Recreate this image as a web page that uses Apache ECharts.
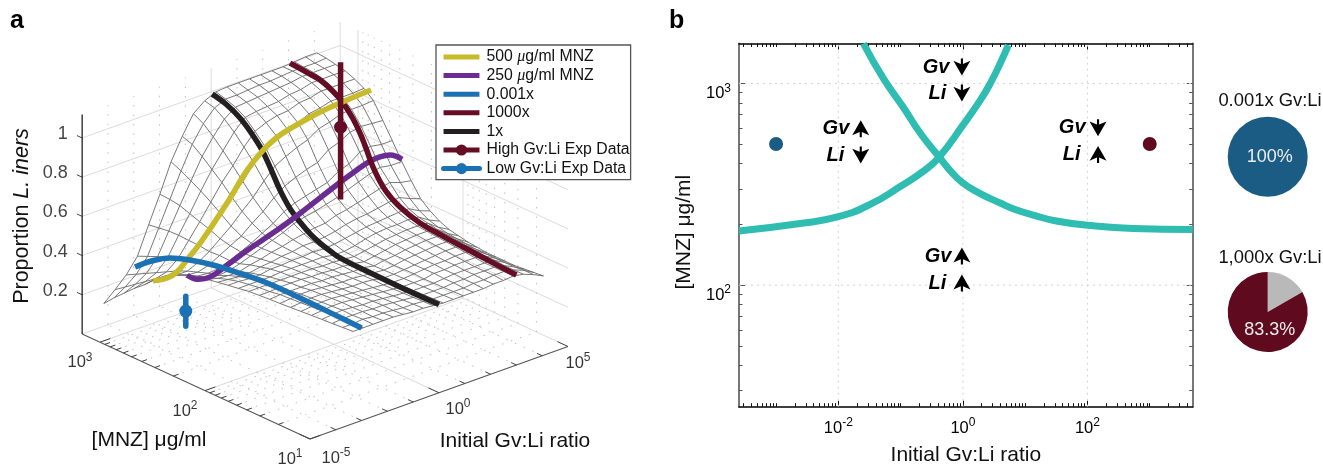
<!DOCTYPE html>
<html><head><meta charset="utf-8">
<style>html,body{margin:0;padding:0;background:#fff}#c{width:1323px;height:466px}</style>
<script src="https://cdn.jsdelivr.net/npm/echarts@6/dist/echarts.min.js"></script>
</head><body><div id="c"></div>
<script>
// ---------- panel a data: log10(ratio) = r, log10(MNZ) = m, proportion = z ----------
const meshRows = [1.00,1.09,1.18,1.27,1.36,1.45,1.54,1.63,1.72,1.81,1.90,1.99,2.08,2.17,2.26,2.35,2.44,2.53,2.62,2.71,2.80,2.89,2.98,3.07,3.16];
const meshRowStart = [-3.33,-3.37,-3.41,-3.44,-3.48,-3.52,-3.56,-3.60,-3.63,-3.67,-3.71,-3.75,-3.78,-3.82,-3.86,-3.90,-3.93,-3.97,-4.01,-4.05,-4.09,-4.12,-4.14,-4.17,-4.20];
const meshRowEnd = 4.05;
// one list per mesh column, left to right, each read from m = 1.00 to m = 3.16
const meshColumns = [
[.47,.47,.47,.47,.47,.47,.47,.47,.47,.47,.47,.465,.46,.455,.45,.44,.43,.41,.38,.345,.30,.26,.215,.17,.12],
[.47,.47,.475,.475,.475,.475,.475,.475,.475,.47,.47,.465,.46,.45,.435,.42,.405,.39,.37,.345,.31,.275,.24,.205,.17],
[.47,.475,.475,.48,.48,.48,.48,.48,.475,.475,.47,.465,.455,.445,.43,.41,.40,.385,.37,.35,.325,.30,.275,.25,.225],
[.47,.47,.475,.475,.48,.48,.48,.48,.475,.475,.47,.465,.455,.445,.43,.415,.405,.40,.395,.385,.37,.355,.34,.32,.30],
[.47,.47,.47,.47,.475,.475,.475,.475,.475,.475,.47,.47,.465,.455,.445,.43,.425,.43,.43,.44,.445,.45,.45,.445,.44],
[.465,.465,.47,.47,.47,.47,.47,.47,.47,.47,.47,.47,.465,.46,.455,.45,.45,.46,.475,.50,.52,.54,.56,.57,.575],
[.46,.46,.465,.465,.465,.465,.465,.465,.47,.47,.47,.47,.47,.47,.47,.47,.475,.49,.52,.56,.60,.635,.665,.695,.72],
[.46,.46,.46,.46,.46,.46,.465,.465,.465,.465,.465,.47,.47,.475,.48,.49,.505,.535,.575,.625,.68,.725,.77,.81,.83],
[.455,.455,.455,.455,.455,.455,.46,.46,.46,.465,.465,.47,.475,.485,.495,.51,.535,.575,.625,.685,.745,.80,.85,.895,.925],
[.45,.45,.45,.45,.45,.45,.45,.455,.46,.46,.46,.46,.47,.485,.505,.535,.575,.625,.69,.76,.82,.875,.92,.955,.97],
[.45,.45,.45,.45,.45,.45,.45,.45,.45,.45,.455,.46,.475,.49,.515,.55,.60,.665,.745,.825,.88,.93,.96,.98,.995],
[.45,.45,.45,.45,.45,.455,.455,.455,.46,.46,.465,.47,.485,.50,.52,.56,.615,.69,.775,.86,.905,.94,.965,.98,1.0],
[.45,.45,.455,.455,.46,.46,.46,.465,.465,.47,.475,.485,.495,.515,.54,.575,.63,.71,.80,.875,.92,.945,.97,.985,1.0],
[.45,.455,.455,.46,.46,.465,.465,.47,.475,.48,.485,.495,.505,.525,.55,.59,.645,.725,.82,.885,.925,.95,.975,.99,1.0],
[.455,.455,.46,.46,.465,.465,.47,.475,.48,.485,.49,.50,.51,.53,.565,.61,.68,.77,.855,.91,.945,.965,.98,.99,1.0],
[.455,.46,.46,.46,.465,.47,.475,.48,.485,.49,.495,.50,.515,.54,.58,.63,.70,.79,.87,.92,.95,.97,.985,.995,1.0],
[.46,.46,.46,.46,.465,.47,.475,.48,.485,.49,.495,.505,.52,.55,.595,.65,.74,.82,.89,.935,.965,.985,.995,1.0,1.0],
[.45,.45,.45,.455,.455,.46,.465,.47,.475,.48,.49,.50,.52,.555,.61,.665,.75,.83,.895,.935,.965,.985,.995,1.0,1.005],
[.43,.43,.425,.425,.425,.425,.425,.43,.435,.44,.45,.465,.49,.53,.59,.655,.74,.825,.895,.935,.965,.985,.995,1.0,1.01],
[.405,.40,.395,.39,.39,.39,.39,.395,.40,.41,.42,.44,.47,.51,.58,.655,.74,.82,.90,.94,.965,.985,.995,1.005,1.01]
];
const yellowM = 2.699;
const yellowR = [-4.17,-3.62,-3.24,-2.85,-2.345,-1.3,-0.52,0.1,0.64,1.26,2.31,3.35,4.28];
const yellowZ = [.348,.337,.35,.394,.454,.61,.741,.814,.854,.877,.904,.916,.923];
const purpleM = 2.398;
const purpleR = [-4.07,-3.68,-3.18,-2.52,-1.74,-0.58,0.31,1.86,2.44,3.02,3.4,3.8,4.26];
const purpleZ = [.447,.407,.396,.425,.464,.512,.556,.641,.67,.694,.698,.688,.645];
const blueR = -3;
const blueM = [3.158,3.0,2.825,2.6,2.415,2.15,1.9,1.587,1.25,1.0];
const blueZ = [.25,.32,.379,.42,.444,.465,.479,.48,.476,.472];
const redR = 3;
const redM = [3.156,3.0,2.87,2.75,2.652,2.56,2.49,2.43,2.366,2.25,2.109,1.918,1.7,1.49,1.25,1.0];
const redZ = [1.008,1.0,.992,.965,.929,.875,.816,.75,.673,.584,.532,.498,.485,.476,.467,.459];
const blackR = 0;
const blackM = [3.16,3.03,2.895,2.79,2.686,2.6,2.514,2.42,2.324,2.22,2.133,2.03,1.943,1.686,1.371,1.0];
const blackZ = [.99,.972,.934,.885,.822,.745,.66,.59,.544,.505,.484,.466,.455,.45,.448,.45];
const expM = 2.699;
const highR = 3.1, highZ = [.42,.789,1.12];
const lowR = -2.9, lowZ = [.057,.134,.21];
const zTicks = [0.2,0.4,0.6,0.8,1];
const mMajor = [1,2,3];
const rMajor = [-5,0,5];
const rDecades = [-4,-3,-2,-1,1,2,3,4];
const seriesNames = ['500 μg/ml MNZ','250 μg/ml MNZ','0.001x','1000x','1x','High Gv:Li Exp Data','Low Gv:Li Exp Data'];

// ---------- panel b data: log10 coordinates ----------
const upR = [-3.595,-2.614,-2.0,-1.49,-1.0,-0.61,-0.38,0,0.28,0.44,0.6,0.73];
const upM = [2.268,2.305,2.339,2.40,2.49,2.57,2.635,2.793,2.917,3.0,3.10,3.19];
const downR = [-1.597,-1.28,-0.96,-0.686,-0.38,-0.204,0,0.278,0.6,0.84,1.13,1.5,2.0,2.735,3.69];
const downM = [3.198,3.026,2.883,2.754,2.635,2.568,2.506,2.454,2.407,2.375,2.347,2.318,2.297,2.281,2.276];
const expPoints = [[-3,2.70],[3,2.70]];
const notes = [
 [-0.016,3.081,'Gv','down',4],[-0.016,2.952,'Li','down',7],
 [-1.64,2.775,'Gv','up',3],[-1.64,2.645,'Li','down',8],
 [2.17,2.78,'Gv','down',4],[2.17,2.648,'Li','up',9],
 [-0.016,2.144,'Gv','up',2],[-0.016,2.01,'Li','up',7]];
const bXMajor = [-2,0,2], bYMajor = [2,3];
const xDecadeStarts = [-4,-3,-2,-1,0,1,2,3], yDecadeStarts = [1,2,3];
const pieHigh = [16.7,83.3], pieLow = [100];

// ---------- projection of panel a ----------
const px=(r,m)=>310+(r+5)*25.8-(m-1)*105;
const py=(r,m,z)=>439-(r+5)*9.25-(m-1)*48.4-z*196;
const P=(r,m,z)=>[px(r,m),py(r,m,z)];
const BR=['-','-'];
const mMax=3.17, zMax=1.12;
const FONT='"Liberation Sans",Arial,sans-serif';
const minorLogs=[2,3,4,5,6,7,8,9];
const mMinor=[];[1,2,3].forEach(d=>minorLogs.forEach(k=>{const v=d+Math.log10(k);if(v<mMax)mMinor.push(v);}));

const solid=[],dots=[],ticks=[],edges=[];
const seg=(arr,a,b)=>{arr.push(a,b,BR);};
zTicks.forEach(z=>{ solid.push(P(-5,mMax,z),P(5,mMax,z),P(5,1,z),BR); });
solid.push(P(-5,mMax,0),P(5,mMax,0),P(5,1,0),BR);
seg(solid,P(0,mMax,0),P(0,mMax,zMax));
seg(solid,P(5,mMax,0),P(5,mMax,zMax));
seg(solid,P(5,3,0),P(5,3,zMax));
seg(solid,P(5,2,0),P(5,2,zMax));
seg(solid,P(0,1,0),P(0,mMax,0));
seg(solid,P(-5,2,0),P(5,2,0));
seg(solid,P(-5,3,0),P(5,3,0));
rDecades.forEach(r=>{seg(dots,P(r,mMax,0),P(r,mMax,zMax));seg(dots,P(r,1,0),P(r,mMax,0));});
mMinor.forEach(m=>{seg(dots,P(5,m,0),P(5,m,zMax));seg(dots,P(-5,m,0),P(5,m,0));});
seg(edges,P(-5,mMax,0),P(-5,1,0));
seg(edges,P(-5,1,0),P(5,1,0));
mMajor.forEach(m=>seg(ticks,P(-5,m,0),P(-4.6,m,0)));
mMinor.forEach(m=>seg(ticks,P(-5,m,0),P(-4.8,m,0)));
rMajor.forEach(r=>seg(ticks,P(r,1,0),P(r,1.1,0)));
rDecades.forEach(r=>seg(ticks,P(r,1,0),P(r,1.05,0)));
zTicks.forEach(z=>seg(ticks,P(-5,mMax,z),P(-5,mMax+0.05,z)));

const mesh=[];
const nodeR=(i,j)=>meshRowStart[i]+(meshRowEnd-meshRowStart[i])*j/(meshColumns.length-1);
meshRows.forEach((m,i)=>{meshColumns.forEach((col,j)=>mesh.push(P(nodeR(i,j),m,col[i])));mesh.push(BR);});
meshColumns.forEach((col,j)=>{meshRows.forEach((m,i)=>mesh.push(P(nodeR(i,j),m,col[i])));mesh.push(BR);});

const sup=(p)=>`{a|10}{b|${p}}`;
const supRich={a:{fontFamily:FONT,fontSize:16.5,color:'#000',lineHeight:20,verticalAlign:'bottom'},
               b:{fontFamily:FONT,fontSize:12,color:'#000',lineHeight:12,verticalAlign:'top'}};
const gridA={xAxisIndex:0,yAxisIndex:0};
const lineS=(name,data,color,width,z,extra)=>Object.assign({type:'line',name,data,...gridA,symbol:'none',silent:true,z,
   lineStyle:{color,width},itemStyle:{color}},extra||{});

const mLabelPts=mMajor.map(m=>({value:P(-5,m,0),label:{formatter:sup(m),offset:[-20,19]}}));
const rOffsets=[[26,18],[19,15],[10,15]];
const rLabelPts=rMajor.map((r,i)=>({value:P(r,1,0),label:{formatter:sup(r),offset:rOffsets[i]}}));
const CLEAR='rgba(0,0,0,0)';
const labelS=(data)=>({type:'scatter',...gridA,data,symbolSize:1,itemStyle:{color:CLEAR},silent:true,z:20,
   label:{show:true,position:'inside',rich:supRich}});
const CW=5.5;
const series=[
 lineS('solidGrid',solid,'#dcdcdc',1,1),
 lineS('dotGrid',dots,'#c0c0c0',1,1,{lineStyle:{color:'#c0c0c0',width:1,type:[1.5,8]}}),
 lineS('boxEdges',edges,'#555',1.1,2),
 lineS('tickMarks',ticks,'#444',1,2),
 lineS('zAxis',[P(-5,mMax,0),P(-5,mMax,zMax)],'#111',1.2,2),
 lineS('mesh',mesh,'rgba(105,105,105,0.9)',1,3),
 lineS(seriesNames[4],blackM.map((m,i)=>P(blackR,m,blackZ[i])),'#231f20',CW,10,{smooth:0.4}),
 lineS(seriesNames[1],purpleR.map((r,i)=>P(r,purpleM,purpleZ[i])),'#6b2c91',CW,11,{smooth:0.4}),
 lineS(seriesNames[3],redM.map((m,i)=>P(redR,m,redZ[i])),'#640d24',CW,12,{smooth:0.4}),
 lineS(seriesNames[0],yellowR.map((r,i)=>P(r,yellowM,yellowZ[i])),'#c8bb2a',CW,13,{smooth:0.4}),
 lineS(seriesNames[2],blueM.map((m,i)=>P(blueR,m,blueZ[i])),'#1a71b3',CW,14,{smooth:0.4}),
 lineS(seriesNames[5],highZ.map((z,i)=>({value:P(highR,expM,z),symbol:i===1?'circle':'none'})),'#640d24',CW,15,{symbol:'circle',symbolSize:13,showSymbol:true,showAllSymbol:true}),
 lineS(seriesNames[6],lowZ.map((z,i)=>({value:P(lowR,expM,z),symbol:i===1?'circle':'none'})),'#1a71b3',CW,15,{symbol:'circle',symbolSize:13,showSymbol:true,showAllSymbol:true,lineStyle:{color:'#1a71b3',width:CW,cap:'round'}}),
 labelS(mLabelPts),labelS(rLabelPts),
 {type:'scatter',...gridA,data:zTicks.map(z=>P(-5,mMax,z)),symbolSize:1,itemStyle:{color:CLEAR},silent:true,z:20,
  label:{show:true,position:'left',distance:14,offset:[0,-4],fontFamily:FONT,fontSize:18,color:'#111',
   formatter:p=>String(zTicks[p.dataIndex])}},
];

// ---------- panel b series ----------
const gridB={xAxisIndex:1,yAxisIndex:1};
const bGrid=[];
bXMajor.forEach(x=>bGrid.push([x,1.397],[x,3.198],BR));
bYMajor.forEach(y=>bGrid.push([-3.595,y],[3.69,y],BR));
series.push(
 {type:'line',...gridB,data:bGrid,symbol:'none',silent:true,z:1,lineStyle:{color:'#d4d4d4',width:1,type:[2,4]}},
 {type:'line',...gridB,data:upR.map((x,i)=>[x,upM[i]]),symbol:'none',smooth:0.5,silent:true,z:3,lineStyle:{color:'#2fbdb2',width:7}},
 {type:'line',...gridB,data:downR.map((x,i)=>[x,downM[i]]),symbol:'none',smooth:0.5,silent:true,z:3,lineStyle:{color:'#2fbdb2',width:7}},
 {type:'scatter',...gridB,silent:true,z:4,symbolSize:14,data:[
   {value:expPoints[0],itemStyle:{color:'#1b5c85',opacity:1}},{value:expPoints[1],itemStyle:{color:'#5f0a1e',opacity:1}}]},
 {type:'scatter',...gridB,silent:true,z:5,symbol:'path://M8 0 L16 14 L9 11 L9 16 L7 16 L7 11 L0 14 Z',symbolSize:[17,17],
  itemStyle:{color:'#000',opacity:1},
  data:notes.map(n=>({value:[n[0],n[1]],symbolRotate:n[3]==='up'?0:180,
     label:{show:true,position:'left',distance:n[4],formatter:n[2],fontFamily:FONT,fontSize:20,fontWeight:'bold',fontStyle:'italic',color:'#000'}}))},
 {type:'line',xAxisIndex:2,yAxisIndex:2,data:[],symbol:'none'},
 {type:'pie',center:[1267.7,156.7],radius:[0,40],silent:true,z:3,animation:false,startAngle:90,clockwise:true,
  labelLayout:{dx:2,dy:0},
  data:[{value:pieLow[0],itemStyle:{color:'#1b5c85'},
    label:{show:true,position:'center',formatter:'100%',fontFamily:FONT,fontSize:18,color:'#ececec'}}],labelLine:{show:false}},
 {type:'pie',center:[1267.7,312],radius:[0,40],silent:true,z:3,animation:false,startAngle:90,clockwise:true,
  labelLayout:{dx:2,dy:18},
  data:[{value:pieHigh[0],itemStyle:{color:'#b9b9b9'},label:{show:false}},
        {value:pieHigh[1],itemStyle:{color:'#5f0a1e'},
    label:{show:true,position:'center',formatter:'83.3%',fontFamily:FONT,fontSize:18,color:'#ececec'}}],labelLine:{show:false}}
);

const minorX=[],minorY=[];
xDecadeStarts.forEach(d=>[1].concat(minorLogs).forEach(k=>{const v=d+Math.log10(k);if(v>-3.595&&v<3.69&&!bXMajor.includes(v))minorX.push(v);}));
yDecadeStarts.forEach(d=>[1].concat(minorLogs).forEach(k=>{const v=d+Math.log10(k);if(v>1.397&&v<3.198&&!bYMajor.includes(v))minorY.push(v);}));

const xCommon={type:'value',min:-3.595,max:3.69,splitLine:{show:false}};
const yCommon={type:'value',min:1.397,max:3.198,splitLine:{show:false}};

const BAR='path://M0 0L100 0L100 0ZM0 12.5L100 12.5L100 26.5L0 26.5ZM0 39L100 39L100 39Z';
const option={
 animation:false,backgroundColor:'#fff',textStyle:{fontFamily:FONT},
 grid:[{left:0,top:0,width:660,height:466,outerBoundsMode:'none'},
       {left:739,top:43.5,width:453.7,height:363.2,outerBoundsMode:'none'},
       {left:739,top:43.5,width:453.7,height:363.2,outerBoundsMode:'none'}],
 xAxis:[
  {type:'value',gridIndex:0,min:0,max:660,show:false},
  Object.assign({},xCommon,{gridIndex:1,position:'bottom',name:'Initial Gv:Li ratio',nameLocation:'middle',nameGap:38,
     nameTextStyle:{fontFamily:FONT,fontSize:21,color:'#111'},
     axisLine:{show:true,onZero:false,lineStyle:{color:'#000',width:1.5}},
     axisTick:{show:true,inside:true,length:6,customValues:bXMajor,lineStyle:{color:'#111',width:1}},
     axisLabel:{show:true,margin:10,customValues:bXMajor,formatter:v=>sup(v),rich:supRich}}),
  Object.assign({},xCommon,{gridIndex:2,position:'bottom',
     axisLine:{show:false,onZero:false},
     axisTick:{show:true,inside:true,length:3.5,customValues:minorX,lineStyle:{color:'#111',width:1}},
     axisLabel:{show:false}}),
 ],
 yAxis:[
  {type:'value',gridIndex:0,min:0,max:466,inverse:true,show:false},
  Object.assign({},yCommon,{gridIndex:1,position:'left',name:'[MNZ] μg/ml',nameLocation:'middle',nameGap:44,nameRotate:90,
     nameTextStyle:{fontFamily:FONT,fontSize:21,color:'#111',padding:[0,14,0,0]},
     axisLine:{show:true,onZero:false,lineStyle:{color:'#777',width:2}},
     axisTick:{show:true,inside:true,length:6,customValues:bYMajor,lineStyle:{color:'#555',width:1}},
     axisLabel:{show:true,margin:8,customValues:bYMajor,formatter:v=>sup(v),rich:supRich,padding:[18,0,0,0]}}),
  Object.assign({},yCommon,{gridIndex:2,position:'left',
     axisLine:{show:false,onZero:false},
     axisTick:{show:true,inside:true,length:3.5,customValues:minorY,lineStyle:{color:'#555',width:1}},
     axisLabel:{show:false}}),
 ],
 legend:{show:true,left:436,top:45,orient:'vertical',
  data:seriesNames.map((n,i)=>i<5?{name:n,icon:BAR}:{name:n}),
  itemWidth:36,itemHeight:14,itemGap:2.6,
  lineStyle:{width:5},
  padding:[4,1,3,5],backgroundColor:'#fff',borderColor:'#555',borderWidth:1.3,borderRadius:0,selectedMode:false,z:30,
  textStyle:{fontFamily:FONT,fontSize:15.8,color:'#111',padding:[0,0,0,2],rich:{m:{fontFamily:'"Liberation Serif"',fontStyle:'italic',fontSize:16,color:'#111'}}},
  formatter:n=>n.replace('μ','{m|μ}')},
 graphic:[
  {type:'text',x:10,y:21,silent:true,style:{text:'a',font:'bold 25px '+FONT,fill:'#000',verticalAlign:'middle'}},
  {type:'text',x:669,y:21,silent:true,style:{text:'b',font:'bold 25px '+FONT,fill:'#000',verticalAlign:'middle'}},
  {type:'text',x:22,y:216,rotation:Math.PI/2,silent:true,style:{text:'{n|Proportion }{i|L. iners}',align:'center',verticalAlign:'middle',
     rich:{n:{font:'21.5px '+FONT,fill:'#111',color:'#111'},i:{font:'italic 21.5px '+FONT,fill:'#111',color:'#111'}}}},
  {type:'text',x:149,y:440,silent:true,style:{text:'[MNZ] μg/ml',font:'21px '+FONT,fill:'#111',align:'center',verticalAlign:'middle'}},
  {type:'text',x:515,y:441,silent:true,style:{text:'Initial Gv:Li ratio',font:'21px '+FONT,fill:'#111',align:'center',verticalAlign:'middle'}},
  {type:'text',x:1270,y:101,silent:true,style:{text:'0.001x Gv:Li',font:'18.4px '+FONT,fill:'#111',align:'center',verticalAlign:'middle'}},
  {type:'text',x:1270,y:258,silent:true,style:{text:'1,000x Gv:Li',font:'18.4px '+FONT,fill:'#111',align:'center',verticalAlign:'middle'}},
 ],
 series
};
// top and right frame of panel b
option.xAxis.push(Object.assign({},xCommon,{gridIndex:1,position:'top',axisLine:{show:true,onZero:false,lineStyle:{color:'#000',width:1.5}},
   axisTick:{show:true,inside:true,length:6,customValues:bXMajor,lineStyle:{color:'#111',width:1}},axisLabel:{show:false}}));
option.xAxis.push(Object.assign({},xCommon,{gridIndex:2,position:'top',axisLine:{show:false,onZero:false},
   axisTick:{show:true,inside:true,length:3.5,customValues:minorX,lineStyle:{color:'#111',width:1}},axisLabel:{show:false}}));
option.yAxis.push(Object.assign({},yCommon,{gridIndex:1,position:'right',axisLine:{show:true,onZero:false,lineStyle:{color:'#777',width:2}},
   axisTick:{show:true,inside:true,length:6,customValues:bYMajor,lineStyle:{color:'#555',width:1}},axisLabel:{show:false}}));
option.yAxis.push(Object.assign({},yCommon,{gridIndex:2,position:'right',axisLine:{show:false,onZero:false},
   axisTick:{show:true,inside:true,length:3.5,customValues:minorY,lineStyle:{color:'#555',width:1}},axisLabel:{show:false}}));

const chart=echarts.init(document.getElementById('c'),null,{renderer:'canvas',width:1323,height:466});
chart.setOption(option);
</script></body></html>
